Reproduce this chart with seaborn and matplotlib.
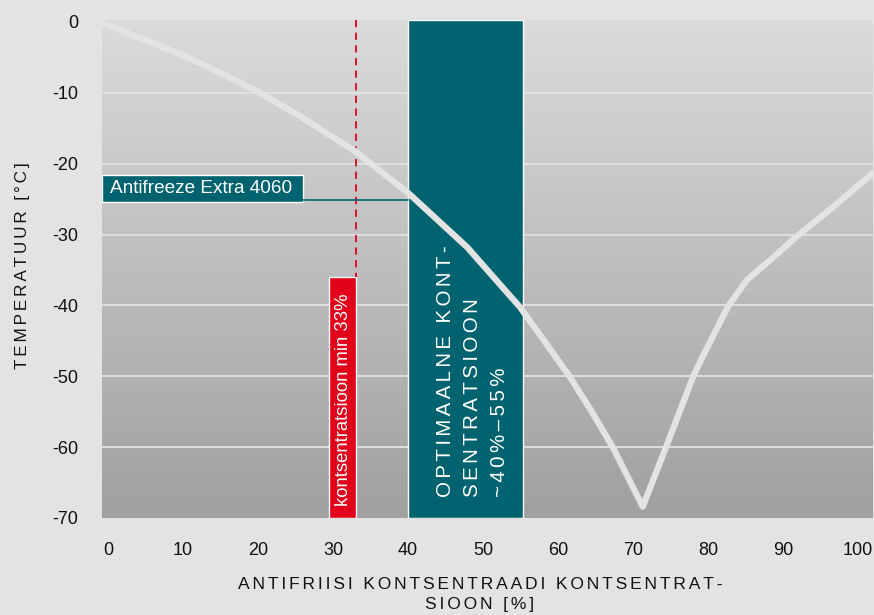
import numpy as np
import pandas as pd
import seaborn as sns
import matplotlib.pyplot as plt
from matplotlib.colors import LinearSegmentedColormap

# freezing curve
conc = [-0.8, 10, 14.9, 20.3, 25.6, 32.9, 40, 47.9, 54.9, 58.3, 61.6, 64.5, 67.3, 71.3,
        74.4, 78.0, 79.2, 82.7, 85.2, 88.3, 91.9, 96.7, 102]
temp = [-0.1, -4.7, -7.1, -10, -13.3, -18.2, -24.1, -31.8, -40.2, -45.2, -50.1, -55, -60, -68.4,
        -60, -50.1, -47.4, -40.1, -36.4, -33.6, -30.2, -26.1, -21.3]

x_ticks = [0, 10, 20, 30, 40, 50, 60, 70, 80, 90, 100]
y_ticks = [0, -10, -20, -30, -40, -50, -60, -70]

optimal_range = [40, 55.3]
min_range = [29.5, 33]
min_top = -36
min_line = 33
product_temp = -25.1
product_box = [-21.6, -25.4]
product_box_end = 26

teal = '#00636f'
red = '#e2001a'
GAP = '\u2006'


def spaced(s):
    return GAP.join(s)


sns.set_style('white')
plt.rcParams['font.family'] = ['Liberation Sans', 'DejaVu Sans']
plt.rcParams['axes.unicode_minus'] = False

fig = plt.figure(figsize=(8.74, 6.15), dpi=100, facecolor='#e3e3e3')
ax = fig.add_axes([102 / 874, 1 - 518 / 615, 771 / 874, 498 / 615])
ax.set_xlim(-0.8, 102)
ax.set_ylim(-70, 0.28)

# gradient background
grad = np.linspace(0, 1, 256).reshape(-1, 1)
bg = LinearSegmentedColormap.from_list('bg', ['#dbdbdb', '#a0a0a0'])
ax.imshow(grad, extent=[-0.8, 102, -70, 0.28], aspect='auto', cmap=bg, zorder=0)

for y in y_ticks[1:-1]:
    ax.axhline(y, color='#e2e2e2', lw=1.3, zorder=1)

# optimal band
ax.bar(optimal_range[0], 70.28, width=optimal_range[1] - optimal_range[0], bottom=-70, align='edge', color=teal, zorder=2)
ax.text(48.55, -67.0, spaced('OPTIMAALNE KONT-') + '\n' + spaced('SENTRATSIOON') + '\n' + spaced('~40%\u201355%'),
        rotation=90, color='white', fontsize=14.8, ha='center', va='bottom', multialignment='left',
        linespacing=1.54, zorder=5)

# minimum concentration
ax.bar(min_range[0], 70 + min_top, width=min_range[1] - min_range[0], bottom=-70, align='edge', color=red, zorder=2)
ax.plot([min_line, min_line], [0.28, min_top], color=red, lw=1.3, dashes=(4, 3), zorder=2)
ax.text(31.35, -68.3, 'kontsentratsioon min 33%', rotation=90, color='white', fontsize=13.3, ha='center', va='bottom', zorder=5)

# product label
ax.bar(-0.8, product_box[1] - product_box[0], width=product_box_end + 0.8, bottom=product_box[0], align='edge', color=teal, zorder=2)
ax.plot([product_box_end, optimal_range[0]], [product_temp, product_temp], color=teal, lw=1.2, zorder=2)
ax.text(0.3, (product_box[0] + product_box[1]) / 2, 'Antifreeze Extra 4060', color='white', fontsize=13.7, ha='left', va='center', zorder=5)

df = pd.DataFrame({'conc': conc, 'temp': temp})
sns.lineplot(data=df, x='conc', y='temp', color='#e3e3e3', lw=4.5, ax=ax, zorder=4, solid_joinstyle='round', solid_capstyle='round')

ax.set_xticks(x_ticks)
ax.set_yticks(y_ticks)
ax.tick_params(axis='both', length=0, labelsize=13, colors='#111111')
ax.tick_params(axis='y', pad=17)
ax.tick_params(axis='x', pad=17)
for s in ax.spines.values():
    s.set_visible(False)

ax.set_xlabel(spaced('ANTIFRIISI KONTSENTRAADI KONTSENTRAT-') + '\n' + spaced('SIOON [%]'), fontsize=12.5, linespacing=1.38, color='#111111')
ax.xaxis.set_label_coords(0.49, -0.119)
ax.set_ylabel(spaced('TEMPERATUUR [°C]'), fontsize=12.3, color='#111111')
ax.yaxis.set_label_coords(-0.094, 0.506)

plt.savefig('out.png', dpi=100, facecolor=fig.get_facecolor())
